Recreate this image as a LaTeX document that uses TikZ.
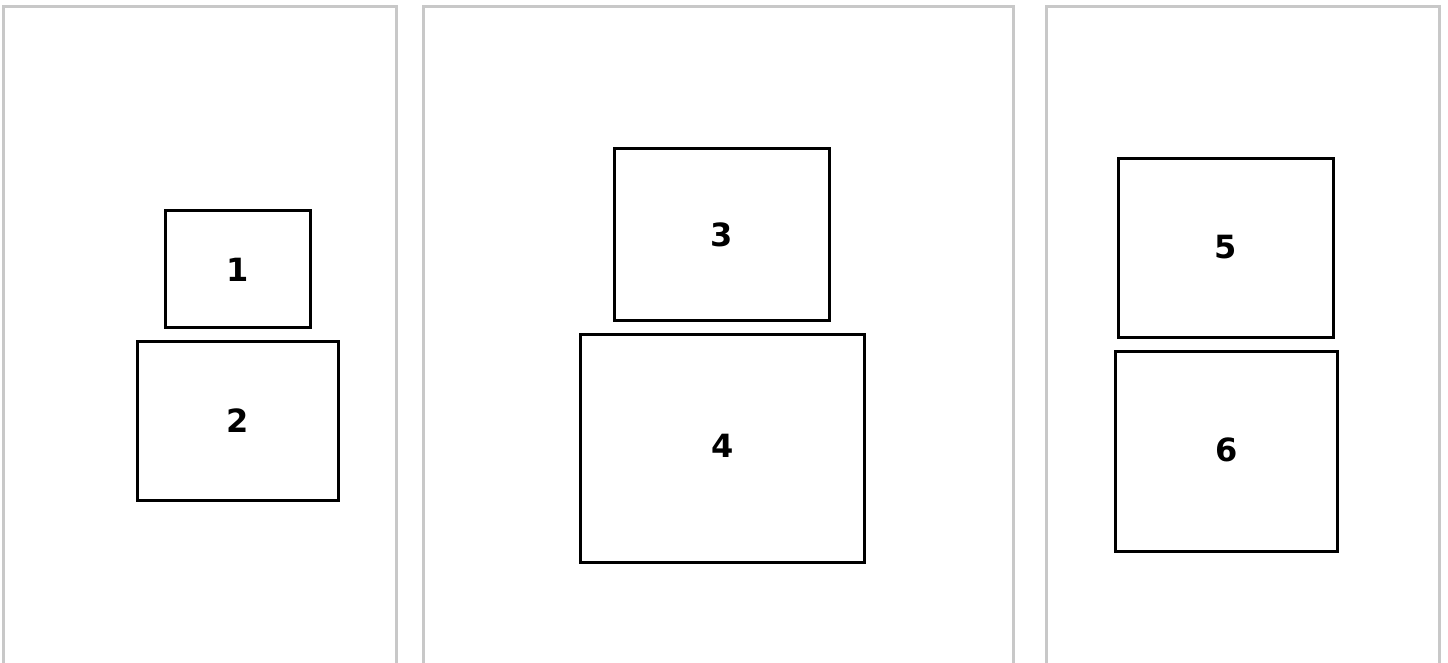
\documentclass[tikz,border=0pt]{standalone}
\usepackage{fontspec}
\setmainfont{DejaVu Sans}
\definecolor{panelgray}{HTML}{C8C8C8}
\tikzset{
  panel/.style={draw=panelgray, line width=3.5pt},
  blk/.style={draw=black, line width=3pt, fill=white},
  lbl/.style={font=\fontsize{32}{32}\selectfont\bfseries, inner sep=0pt}
}
\begin{document}
\begin{tikzpicture}[x=1pt,y=-1pt]
\useasboundingbox (0,0) rectangle (1448,662);
% panels (open at bottom)
\draw[panel] (3.5,670) -- (3.5,6.5) -- (396.5,6.5) -- (396.5,670);
\draw[panel] (423.5,670) -- (423.5,6.5) -- (1013.5,6.5) -- (1013.5,670);
\draw[panel] (1046.5,670) -- (1046.5,6.5) -- (1439.5,6.5) -- (1439.5,670);
% boxes
\draw[blk] (165,210) rectangle (310,327);
\node[lbl] (n1) at (238,270) {1};
\draw[blk] (137,341) rectangle (338,500);
\node[lbl] (n2) at (238,421) {2};
\draw[blk] (614,148) rectangle (829,320);
\node[lbl] (n3) at (722,235) {3};
\draw[blk] (580,334) rectangle (864,562);
\node[lbl] (n4) at (722.5,446) {4};
\draw[blk] (1118,158) rectangle (1333,337);
\node[lbl] (n5) at (1226,247.5) {5};
\draw[blk] (1115,351) rectangle (1337,551);
\node[lbl] (n6) at (1226.5,450) {6};
\end{tikzpicture}
\end{document}
